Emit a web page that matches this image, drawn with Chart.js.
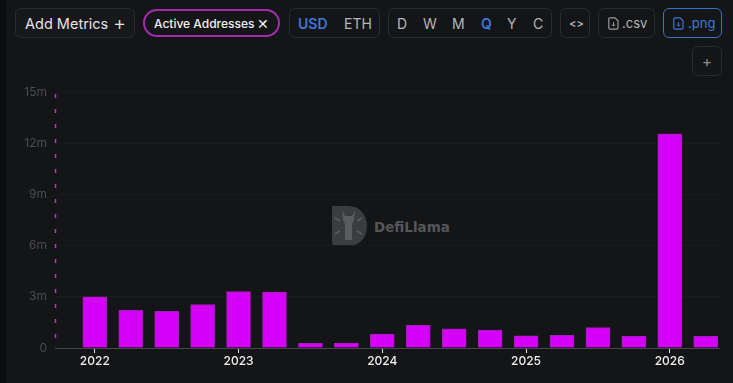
<!DOCTYPE html>
<html lang="en">
<head>
<meta charset="UTF-8">
<title>Active Addresses</title>
<script src="https://cdn.jsdelivr.net/npm/chart.js@4"></script>
<style>
    * { margin: 0; padding: 0; box-sizing: border-box; }
    body {
        width: 733px; height: 383px; overflow: hidden; position: relative;
        background: #141517; font-family: Inter, sans-serif; color: #d8d8da;
    }
    .strip { position: absolute; left: 0; top: 0; width: 6px; height: 383px; background: #0c0d0e; }
    .btn {
        position: absolute; top: 8px; height: 30px; border: 1px solid #2a2b2f; border-radius: 6px;
        display: flex; align-items: center; font-size: 14px; color: #b4b5b8; white-space: nowrap;
    }
    .btn span { position: absolute; }
    .blue { color: #3f76d8; font-weight: 600; }
    #metrics { left: 15px; width: 120px; background: #17181b; color: #e4e4e6; font-size: 14.5px; }
    #active {
        left: 143px; top: 9px; width: 137px; height: 28px; border: 2px solid #a52ab0; border-radius: 14px;
        background: #141517; color: #f0f0f2; font-size: 12px; font-weight: 500;
    }
    #canvasWrap { position: absolute; left: 0; top: 0; }
    #mark { position: absolute; left: 332px; top: 206px; }
    #markText { position: absolute; left: 374px; top: 219px; font: bold 13.5px "DejaVu Sans", sans-serif; color: #55565a; }
</style>
</head>
<body>
<div class="strip"></div>

<div class="btn" id="metrics"><span style="left:9px">Add Metrics</span><span style="left:97px;font-size:20px;font-weight:300">+</span></div>
<div class="btn" id="active"><span style="left:9px">Active Addresses</span><span style="left:112px;font-size:14px;font-weight:400">✕</span></div>

<div class="btn" style="left:289px;width:91px"><span class="blue" style="left:8px;font-size:14px">USD</span><span style="left:54px">ETH</span></div>

<div class="btn" style="left:388px;width:164px">
    <span style="left:8px">D</span><span style="left:34px">W</span><span style="left:63px">M</span>
    <span class="blue" style="left:92px">Q</span><span style="left:118px">Y</span><span style="left:144px">C</span>
</div>

<div class="btn" style="left:560px;width:30px;font-size:11px;font-weight:600"><span style="left:8px">&lt;&gt;</span></div>

<div class="btn" style="left:598px;width:57px;font-size:13px">
    <svg style="position:absolute;left:9px;top:8px" width="11" height="13" viewBox="0 0 11 13"><path d="M2 .8h5l3 3V11a1.2 1.2 0 0 1-1.2 1.2H2A1.2 1.2 0 0 1 .8 11V2A1.2 1.2 0 0 1 2 .8z" fill="none" stroke="#9a9b9e" stroke-width="1.2"/><path d="M5.5 5v4M4 7.6l1.5 1.6L7 7.6" fill="none" stroke="#9a9b9e"/></svg>
    <span style="left:23px">.csv</span>
</div>

<div class="btn" style="left:663px;width:59px;font-size:13px;border-color:#3a6fc4;color:#3f76d8;border-radius:6px">
    <svg style="position:absolute;left:9px;top:8px" width="11" height="13" viewBox="0 0 11 13"><path d="M2 .8h5l3 3V11a1.2 1.2 0 0 1-1.2 1.2H2A1.2 1.2 0 0 1 .8 11V2A1.2 1.2 0 0 1 2 .8z" fill="none" stroke="#3f76d8" stroke-width="1.2"/><path d="M5.5 5v4M4 7.6l1.5 1.6L7 7.6" fill="none" stroke="#3f76d8"/></svg>
    <span style="left:24px">.png</span>
</div>

<div class="btn" style="left:692px;top:46px;width:30px;height:30px;font-size:15px;color:#8c8d90"><span style="left:9px">+</span></div>

<svg id="mark" width="36" height="40" viewBox="0 0 36 40">
    <path d="M0 0H16C28 0 35 9 35 20S28 40 16 40H4Q0 40 0 36Z" fill="#3b3c3f"/>
    <path d="M10 4l3 6h7l3-6-1 10-2 4v16H13V18l-2-4z" fill="#5a5b5e"/>
    <path d="M3 12l5 3M30 12l-5 3M3 28l5-3M30 28l-5-3" stroke="#5a5b5e" stroke-width="1.5"/>
</svg>
<div id="markText">DefiLlama</div>

<div id="canvasWrap"><canvas id="chart" width="733" height="383"></canvas></div>

<script>
    const quarters = ['2022 Q1','2022 Q2','2022 Q3','2022 Q4','2023 Q1','2023 Q2','2023 Q3','2023 Q4','2024 Q1','2024 Q2','2024 Q3','2024 Q4','2025 Q1','2025 Q2','2025 Q3','2025 Q4','2026 Q1','2026 Q2'];
    const activeAddresses = [3000000,2200000,2150000,2540000,3300000,3280000,270000,290000,820000,1330000,1130000,1050000,720000,740000,1190000,700000,12550000,700000];
    const yTicks = [0,3000000,6000000,9000000,12000000,15000000];
    const yTickLabels = ['0','3m','6m','9m','12m','15m'];
    const yearTickIndex = [0,4,8,12,16];
    const yearLabels = ['2022','2023','2024','2025','2026'];
    const xMin = -1.108;
    const xMax = 17.37;

    // dashed magenta line down the left edge of the plot
    const leftDashes = {
        id: 'leftDashes',
        afterDraw(chart) {
            const { ctx, chartArea } = chart;
            const x = Math.round(chart.scales.x.getPixelForValue(xMin)) + 0.5;
            ctx.save();
            ctx.strokeStyle = '#c22fd2';
            ctx.lineWidth = 1.5;
            ctx.setLineDash([4, 11]);
            ctx.lineDashOffset = -2;
            ctx.beginPath();
            ctx.moveTo(x, chartArea.top);
            ctx.lineTo(x, chartArea.bottom - 1);
            ctx.stroke();
            ctx.restore();
        }
    };

    new Chart(document.getElementById('chart').getContext('2d'), {
        type: 'bar',
        data: {
            datasets: [{
                label: 'Active Addresses',
                data: quarters.map((q, i) => ({ x: i, y: activeAddresses[i] })),
                backgroundColor: '#d500f9',
                borderColor: '#a01cb8',
                borderWidth: 1,
                barThickness: 24
            }]
        },
        options: {
            responsive: false,
            animation: false,
            layout: { padding: { top: 92, right: 14 } },
            plugins: { legend: { display: false }, tooltip: { enabled: false } },
            scales: {
                x: {
                    type: 'linear',
                    offset: false,
                    min: xMin,
                    max: xMax,
                    afterFit: s => { s.height = 35; },
                    afterBuildTicks: s => { s.ticks = yearTickIndex.map(v => ({ value: v })); },
                    grid: { offset: false, drawOnChartArea: false, tickLength: 5, tickColor: '#e0e0e0' },
                    border: { color: '#45464a', width: 1 },
                    ticks: {
                        color: '#eeeeef',
                        font: { family: 'Inter', size: 12, weight: '500' },
                        padding: 1,
                        maxRotation: 0,
                        autoSkip: false,
                        callback: v => yearLabels[yearTickIndex.indexOf(v)]
                    }
                },
                y: {
                    min: 0,
                    max: 15000000,
                    afterFit: s => { s.width = 55; },
                    afterBuildTicks: s => { s.ticks = yTicks.map(v => ({ value: v })); },
                    grid: { color: '#1a1b1e', drawTicks: false },
                    border: { display: false },
                    ticks: {
                        color: '#4b4c50',
                        font: { family: 'Inter', size: 12 },
                        padding: 8,
                        callback: v => yTickLabels[yTicks.indexOf(v)]
                    }
                }
            }
        },
        plugins: [leftDashes]
    });
</script>
</body>
</html>
